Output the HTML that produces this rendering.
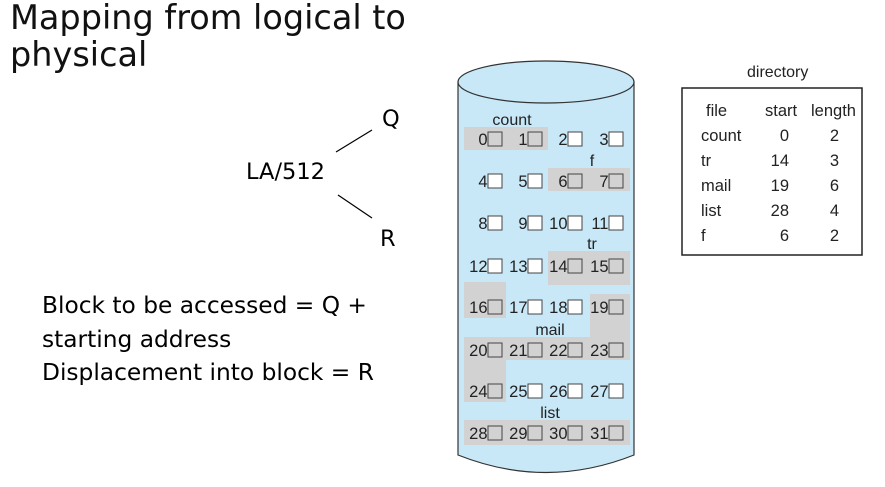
<!DOCTYPE html><html><head><style>body{margin:0;background:#fff}svg text{font-family:"Liberation Sans",sans-serif}svg text.dj{font-family:"DejaVu Sans",sans-serif}</style></head><body>
<svg width="885" height="482" xmlns="http://www.w3.org/2000/svg">
<text class="dj" x="10" y="29" font-size="33.5" fill="#111">Mapping from logical to</text>
<text class="dj" x="10" y="66" font-size="33.5" fill="#111">physical</text>
<text class="dj" x="246" y="179" font-size="22.5">LA/512</text>
<text class="dj" x="382" y="126" font-size="22.5">Q</text>
<text class="dj" x="380" y="246" font-size="22.5">R</text>
<line x1="336" y1="152" x2="372" y2="130" stroke="#000" stroke-width="1.2"/>
<line x1="338" y1="195" x2="372" y2="218" stroke="#000" stroke-width="1.2"/>
<text class="dj" x="42" y="313" font-size="23.3">Block to be accessed = Q +</text>
<text class="dj" x="42" y="347" font-size="23.3">starting address</text>
<text class="dj" x="42" y="380" font-size="23.3">Displacement into block = R</text>
<path d="M458,82 L458,455 Q546,490 634,455 L634,82 Z" fill="#c8e8f8" stroke="#333" stroke-width="1.2"/>
<ellipse cx="546" cy="82" rx="88" ry="21" fill="#c8e8f8" stroke="#333" stroke-width="1.2"/>
<g fill="#d2d2d2">
<rect x="464" y="127" width="84" height="23"/>
<rect x="548" y="168" width="82" height="23"/>
<rect x="548" y="251" width="82" height="34"/>
<rect x="464" y="282" width="42" height="36"/>
<rect x="590" y="294" width="40" height="44"/>
<rect x="464" y="337" width="166" height="23"/>
<rect x="464" y="358" width="42" height="44"/>
<rect x="464" y="420" width="166" height="25"/>
</g>
<g font-size="16" fill="#222" text-anchor="middle">
<text x="512" y="125">count</text><text x="592" y="166">f</text><text x="592" y="249">tr</text><text x="550" y="335">mail</text><text x="550" y="418">list</text>
</g>
<g font-size="16.5" fill="#222" text-anchor="end" id="cells"></g>
<text x="747" y="77" font-size="16" fill="#222">directory</text>
<rect x="682" y="88" width="180" height="167" fill="none" stroke="#222" stroke-width="1.5"/>
<g font-size="16.5" fill="#222">
<text x="706" y="116">file</text><text x="765" y="116">start</text><text x="811" y="116">length</text>
<text x="701" y="141">count</text><text x="701" y="166">tr</text><text x="701" y="191">mail</text><text x="701" y="216">list</text><text x="701" y="241">f</text>
</g>
<g font-size="16.5" fill="#222" text-anchor="end">
<text x="789" y="141">0</text><text x="789" y="166">14</text><text x="789" y="191">19</text><text x="789" y="216">28</text><text x="789" y="241">6</text>
<text x="839" y="141">2</text><text x="839" y="166">3</text><text x="839" y="191">6</text><text x="839" y="216">4</text><text x="839" y="241">2</text>
</g>
<g id="boxes"></g>
</svg>
<script>
var cols=[488,528,568,609],rows=[139,181,223,266,307,350,391,433];
var gray={0:1,1:1,6:1,7:1,14:1,15:1,16:1,19:1,20:1,21:1,22:1,23:1,24:1,28:1,29:1,30:1,31:1};
var c=document.getElementById('cells'),b=document.getElementById('boxes'),ns="http://www.w3.org/2000/svg";
for(var r=0;r<8;r++)for(var k=0;k<4;k++){var n=r*4+k;
var t=document.createElementNS(ns,'text');t.setAttribute('x',cols[k]-0.5);t.setAttribute('y',rows[r]+6);t.textContent=n;c.appendChild(t);
var q=document.createElementNS(ns,'rect');q.setAttribute('x',cols[k]);q.setAttribute('y',rows[r]-7);q.setAttribute('width',14);q.setAttribute('height',14);
q.setAttribute('fill',gray[n]?'#d2d2d2':'#fff');q.setAttribute('stroke','#444');q.setAttribute('stroke-width','1');b.appendChild(q);}
</script>
</body></html>
